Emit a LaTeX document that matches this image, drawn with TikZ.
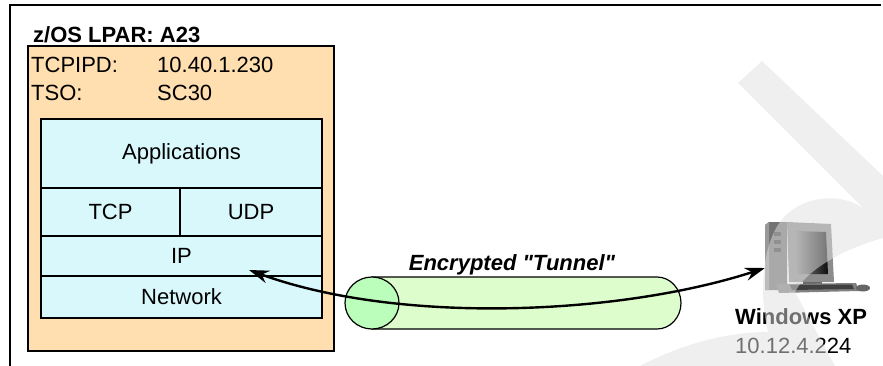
\documentclass[tikz,border=0pt]{standalone}
\usepackage{fontspec}
\setmainfont{Liberation Sans}
\usetikzlibrary{arrows.meta}

\definecolor{LparPeach}{HTML}{FFDEAF}
\definecolor{LayerCyan}{HTML}{D9F8FC}
\definecolor{TubeGreen}{HTML}{DDFDCD}
\definecolor{TubeMouth}{HTML}{BBFDBB}

\begin{document}
\begin{tikzpicture}[x=1pt, y=1pt, font=\fontsize{22}{26}\selectfont]
\useasboundingbox (0,0) rectangle (883,-366);

\coordinate (IpEnd) at (249,-270);
\coordinate (PcIn) at (765,-268);

% page frame
\draw[line width=1.3pt] (10,-366) -- (10,-5) -- (881,-5);


\tikzset{LabelStyle/.style = {anchor=base west, inner sep=0pt} }

\node[draw, line width=1.2pt, fill=LparPeach, minimum width=306, minimum height=305, inner sep=0pt] (Lpar) at (181,-198.5) {};
\node[LabelStyle, font=\fontsize{22}{26}\selectfont\bfseries] (LparName) at (33,-43) {z/OS LPAR: A23};
\node[LabelStyle] (StackKey) at (31,-73) {TCPIPD:};
\node[LabelStyle] (StackAddr) at (157,-73) {10.40.1.230};
\node[LabelStyle] (TsoKey) at (31,-101) {TSO:};
\node[LabelStyle] (TsoName) at (157,-101) {SC30};


\tikzset{LayerStyle/.style = {
 draw,
 line width = 1.2pt,
 fill = LayerCyan,
 inner sep = 0pt} }

\node[LayerStyle, minimum width=281, minimum height=69] (Apps) at (181.5,-153.5) {Applications};
\node[LayerStyle, minimum width=139, minimum height=48] (Tcp) at (110.5,-212) {TCP};
\node[LayerStyle, minimum width=142, minimum height=48] (Udp) at (251,-212) {UDP};
\node[LayerStyle, minimum width=281, minimum height=40] (Ip) at (181.5,-256) {IP};
\node[LayerStyle, minimum width=281, minimum height=42] (Net) at (181.5,-297) {Network};


% the tunnel
\draw[line width=1.2pt, fill=TubeGreen] (372,-277) -- (657,-277)
  arc[start angle=90, end angle=-90, x radius=24, y radius=26] -- (372,-329) -- cycle;
\draw[line width=1.2pt, fill=TubeMouth] (372,-303) ellipse[x radius=27, y radius=26];
\node[anchor=base, inner sep=0pt, font=\fontsize{22}{26}\selectfont\bfseries\itshape] (TunnelName) at (512,-270) {Encrypted \textquotedbl Tunnel\textquotedbl};


% workstation
\fill[black!55] (765,-225) -- (769,-222) -- (787,-222) -- (787,-290) -- (765,-290) -- cycle;
\fill[black!40] (765,-225) -- (769,-222) -- (769,-290) -- (765,-290) -- cycle;
\foreach \y in {232,240,248} {
  \fill[black!75] (774,-\y) rectangle (781,-\y-4);
}
\fill[black!45] (787,-222) -- (831,-224) -- (834,-282) -- (789,-282) -- cycle;
\shade[left color=black!45, right color=black!95] (795,-231) -- (826,-232) -- (828,-274) -- (797,-274) -- cycle;
\fill[black!60] (803,-282) rectangle (822,-288);
\fill[black!50] (776,-284) -- (856,-283) -- (859,-291) -- (779,-293) -- cycle;
\fill[black!75] (790,-285) -- (852,-284.5) -- (854,-289) -- (792,-290) -- cycle;
\fill[black!60] (863,-288) ellipse[x radius=7, y radius=3.5];

\node[LabelStyle, font=\fontsize{22}{26}\selectfont\bfseries] (PcName) at (735,-324) {Windows XP};
\node[LabelStyle] (PcAddr) at (735,-353) {10.12.4.224};


\tikzset{LinkStyle/.style = {
 line width = 2.4pt,
 {Stealth[length=20pt, width=13pt]}-{Stealth[length=20pt, width=13pt]}} }

\draw[LinkStyle] (IpEnd) .. controls (400,-325) and (620,-315) .. (PcIn);


% faint curl laid over the right side
\begin{scope}[fill=black!12, opacity=0.5]
\fill (762,-61) -- (883,-176) -- (883,-228) -- (738,-83) -- cycle;
\fill (640,-366) .. controls (680,-345) and (725,-332) .. (768,-332)
  .. controls (760,-300) and (760,-250) .. (780,-222)
  .. controls (800,-195) and (840,-192) .. (863,-208)
  -- (883,-228) -- (883,-238)
  .. controls (840,-250) and (805,-272) .. (795,-292)
  -- (835,-366) -- cycle;
\end{scope}

\end{tikzpicture}
\end{document}
